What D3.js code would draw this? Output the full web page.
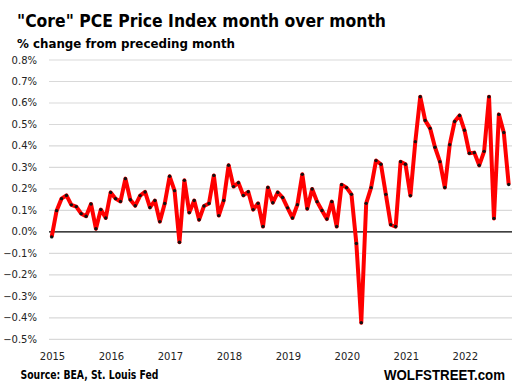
<!DOCTYPE html>
<html>
<head>
<meta charset="utf-8">
<script src="https://cdn.jsdelivr.net/npm/d3@7"></script>
<style>
  html, body { margin: 0; padding: 0; background: #fff; }
  svg { display: block; }
</style>
</head>
<body>
<div id="chart"></div>
<script>
// monthly core PCE % change, Jan 2015 .. Oct 2022
const startYear = 2015
const values = [
  -0.023, 0.099, 0.155, 0.17, 0.126, 0.118, 0.085, 0.073, 0.13, 0.015, 0.104, 0.065, // 2015
  0.184, 0.155, 0.142, 0.248, 0.15, 0.122, 0.169, 0.186, 0.114, 0.146, 0.048, 0.132, // 2016
  0.259, 0.192, -0.048, 0.24, 0.09, 0.146, 0.057, 0.121, 0.132, 0.263, 0.076, 0.146, // 2017
  0.31, 0.211, 0.229, 0.17, 0.187, 0.104, 0.133, 0.025, 0.207, 0.136, 0.184, 0.16, // 2018
  0.112, 0.065, 0.127, 0.268, 0.108, 0.2, 0.141, 0.1, 0.06, 0.141, 0.025, 0.22, // 2019
  0.206, 0.175, -0.054, -0.422, 0.133, 0.206, 0.332, 0.315, 0.175, 0.034, 0.025, 0.327, // 2020
  0.315, 0.169, 0.42, 0.629, 0.519, 0.482, 0.394, 0.327, 0.207, 0.406, 0.514, 0.542, // 2021
  0.473, 0.366, 0.369, 0.31, 0.375, 0.629, 0.063, 0.547, 0.463, 0.221, // 2022
]
const yearTicks = [2015, 2016, 2017, 2018, 2019, 2020, 2021, 2022]
const yTicks = [-0.5, -0.4, -0.3, -0.2, -0.1, 0, 0.1, 0.2, 0.3, 0.4, 0.5, 0.6, 0.7, 0.8]

const title = '"Core" PCE Price Index month over month'
const subtitle = '% change from preceding month'
const source = 'Source: BEA, St. Louis Fed'
const brand = 'WOLFSTREET.com'

const width = 517
const height = 387
const font = 'Tahoma, "DejaVu Sans", sans-serif'

const svg = d3.select('#chart').append('svg')
  .attr('width', width)
  .attr('height', height)
  .style('background', '#fff')

// 月份索引 -> x
const x = d3.scaleLinear().domain([0, values.length - 1]).range([51.7, 508.7])
const y = d3.scaleLinear().domain([-0.5, 0.8]).range([339.4, 60])
const monthX = (year, m) => x((year - startYear) * 12 + m)

// gridlines
svg.append('g')
  .selectAll('line')
  .data(yTicks.filter(d => d !== 0))
  .join('line')
  .attr('x1', 49).attr('x2', 512)
  .attr('y1', d => y(d)).attr('y2', d => y(d))
  .attr('stroke', '#d9d9d9')
  .attr('stroke-width', 1.2)

// zero line
svg.append('line')
  .attr('x1', 49).attr('x2', 512)
  .attr('y1', y(0)).attr('y2', y(0))
  .attr('stroke', '#000')
  .attr('stroke-width', 1.2)

// y labels
svg.append('g')
  .selectAll('text')
  .data(yTicks)
  .join('text')
  .attr('x', 37)
  .attr('y', d => y(d))
  .attr('dy', '0.35em')
  .attr('text-anchor', 'end')
  .style('font-family', font)
  .style('font-size', '10px')
  .style('fill', '#222')
  .text(d => d3.format('.1f')(d) + '%')

// x labels
svg.append('g')
  .selectAll('text')
  .data(yearTicks)
  .join('text')
  .attr('x', d => monthX(d, 0) + 0.8)
  .attr('y', 360)
  .attr('text-anchor', 'middle')
  .style('font-family', font)
  .style('font-size', '10px')
  .style('fill', '#222')
  .text(d => d)

// line
const line = d3.line()
  .x((d, i) => x(i))
  .y(d => y(d))

svg.append('path')
  .datum(values)
  .attr('d', line)
  .attr('fill', 'none')
  .attr('stroke', '#ff0000')
  .attr('stroke-width', 4)
  .attr('stroke-linejoin', 'round')

svg.append('g')
  .selectAll('circle')
  .data(values)
  .join('circle')
  .attr('cx', (d, i) => x(i))
  .attr('cy', d => y(d))
  .attr('r', 1.7)
  .attr('fill', '#111')

// titles
svg.append('text')
  .attr('x', 17).attr('y', 27)
  .attr('textLength', 369).attr('lengthAdjust', 'spacingAndGlyphs')
  .style('font-family', font)
  .style('font-weight', 'bold')
  .style('font-size', '18px')
  .text(title)

svg.append('text')
  .attr('x', 17).attr('y', 47.5)
  .attr('textLength', 218).attr('lengthAdjust', 'spacingAndGlyphs')
  .style('font-family', font)
  .style('font-weight', 'bold')
  .style('font-size', '13px')
  .text(subtitle)

svg.append('text')
  .attr('x', 20.5).attr('y', 378.5)
  .attr('textLength', 138).attr('lengthAdjust', 'spacingAndGlyphs')
  .style('font-family', font)
  .style('font-weight', 'bold')
  .style('font-size', '11.5px')
  .text(source)

svg.append('text')
  .attr('x', 384).attr('y', 379.5)
  .attr('textLength', 121).attr('lengthAdjust', 'spacingAndGlyphs')
  .style('font-family', '"Liberation Sans", Arial, sans-serif')
  .style('font-weight', 'bold')
  .style('font-size', '14px')
  .text(brand)
</script>
</body>
</html>
